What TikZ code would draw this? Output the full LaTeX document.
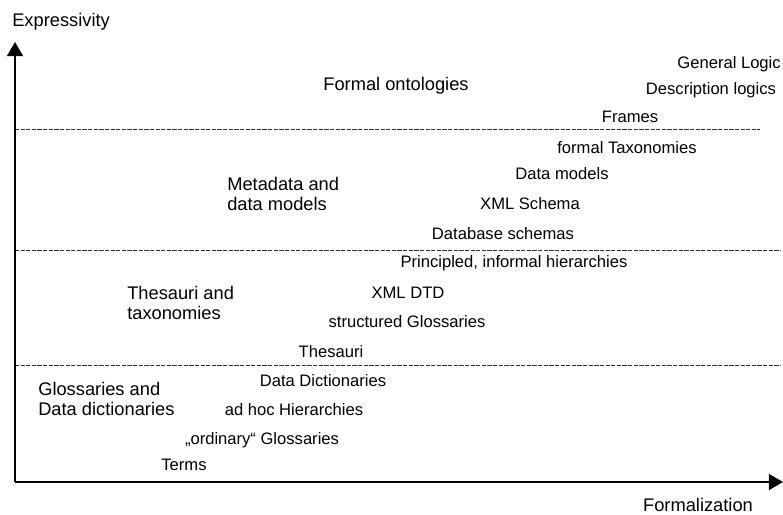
\documentclass[tikz,border=0pt]{standalone}
\usepackage{fontspec}
\setmainfont{Liberation Sans}
\usetikzlibrary{arrows}

\tikzset{
  layer/.style={font=\fontsize{13}{14.5}\selectfont, align=left, anchor=west, inner sep=0pt},
  lang/.style={font=\fontsize{11.8}{13}\selectfont, inner sep=0pt},
  sep/.style={dash pattern=on 3pt off 1pt, line width=0.5pt, black!80},
  axis/.style={line width=1.8pt, -triangle 60}
}

\begin{document}
\begin{tikzpicture}[x=0.025cm, y=-0.025cm]
          \useasboundingbox (0,0) rectangle (783,514);
          \coordinate (o) at (15,482);
          \coordinate (ytop) at (15,42);
          \coordinate (xend) at (783,482);
          \coordinate (s1a) at (15,129);
          \coordinate (s1b) at (760,129);
          \coordinate (s2a) at (15,250);
          \coordinate (s2b) at (781,250);
          \coordinate (s3a) at (15,365);
          \coordinate (s3b) at (781,365);

          \node[lang, font=\fontsize{13}{14}\selectfont, anchor=west] (yl) at (12,22) {Expressivity};
          \node[lang, font=\fontsize{13}{14}\selectfont] (xl) at (698,505) {Formalization};

          % layers
          \node[layer, anchor=center] (ont) at (396,86) {Formal ontologies};
          \node[layer] (meta) at (227,194) {Metadata and\\data models};
          \node[layer] (thes) at (127,303) {Thesauri and\\taxonomies};
          \node[layer] (glos) at (38,399) {Glossaries and\\Data dictionaries};

          % languages
          \node[lang, anchor=east] (gl) at (781,64) {General Logic};
          \node[lang] (dl) at (711,90) {Description logics};
          \node[lang] (fr) at (630,117) {Frames};
          \node[lang] (ft) at (627,148) {formal Taxonomies};
          \node[lang] (dm) at (562,174) {Data models};
          \node[lang] (xs) at (530,204) {XML Schema};
          \node[lang] (ds) at (503,234) {Database schemas};
          \node[lang] (pih) at (514,263) {Principled, informal hierarchies};
          \node[lang] (dtd) at (408,293) {XML DTD};
          \node[lang] (sg) at (407,322) {structured Glossaries};
          \node[lang] (th) at (331,352) {Thesauri};
          \node[lang] (dd) at (323,381) {Data Dictionaries};
          \node[lang] (ah) at (294,410) {ad hoc Hierarchies};
          \node[lang] (og) at (262,440) {„ordinary“ Glossaries};
          \node[lang] (te) at (184,465) {Terms};

          \draw[sep] (s1a) -- (s1b);
          \draw[sep] (s2a) -- (s2b);
          \draw[sep] (s3a) -- (s3b);

          \draw[axis] (o) -- (ytop);
          \draw[axis] (o) -- (xend);
        \end{tikzpicture}
\end{document}
